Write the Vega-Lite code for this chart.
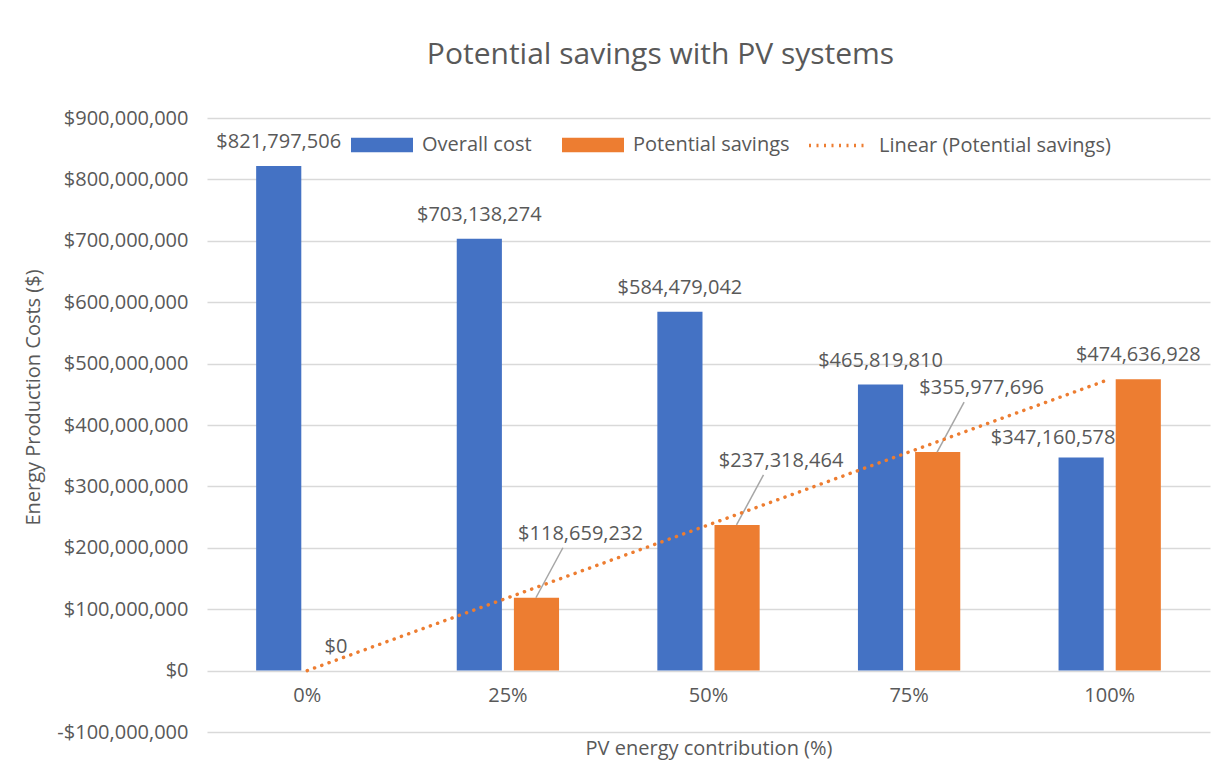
{
  "$schema": "https://vega.github.io/schema/vega-lite/v6.json",
  "width": 1003,
  "height": 614,
  "autosize": {"type": "none"},
  "padding": {"left": 207, "top": 118, "right": 3, "bottom": 46},
  "config": {
    "font": "Open Sans",
    "view": {"stroke": null},
    "text": {"font": "Open Sans", "fontSize": 20, "fill": "#595959"}
  },
  "title": {
    "text": "Potential savings with PV systems",
    "fontSize": 30,
    "fontWeight": "normal",
    "color": "#595959",
    "font": "Open Sans",
    "anchor": "middle",
    "dx": -48,
    "baseline": "alphabetic",
    "offset": 14
  },
  "data": {
    "values": [
      {"pct": "0%", "series": "Overall cost", "value": 821797506},
      {"pct": "25%", "series": "Overall cost", "value": 703138274},
      {"pct": "50%", "series": "Overall cost", "value": 584479042},
      {"pct": "75%", "series": "Overall cost", "value": 465819810},
      {"pct": "100%", "series": "Overall cost", "value": 347160578},
      {"pct": "0%", "series": "Potential savings", "value": 0},
      {"pct": "25%", "series": "Potential savings", "value": 118659232},
      {"pct": "50%", "series": "Potential savings", "value": 237318464},
      {"pct": "75%", "series": "Potential savings", "value": 355977696},
      {"pct": "100%", "series": "Potential savings", "value": 474636928}
    ]
  },
  "encoding": {
    "x": {
      "field": "pct",
      "type": "nominal",
      "sort": ["0%", "25%", "50%", "75%", "100%"],
      "scale": {"paddingInner": 0.49, "paddingOuter": 0.245},
      "axis": {
        "title": "PV energy contribution (%)",
        "titleFontSize": 20,
        "titleFontWeight": "normal",
        "titleColor": "#595959",
        "titleFont": "Open Sans",
        "titleY": 77,
        "titleBaseline": "middle",
        "labelAngle": 0,
        "labelFontSize": 20,
        "labelColor": "#595959",
        "labelPadding": 14,
        "labelBaseline": "top",
        "domain": false,
        "ticks": false,
        "offset": -61
      }
    },
    "y": {
      "field": "value",
      "type": "quantitative",
      "scale": {"domain": [-100000000, 900000000], "nice": false, "zero": false},
      "axis": {
        "title": "Energy Production Costs ($)",
        "titleFontSize": 20,
        "titleFontWeight": "normal",
        "titleColor": "#595959",
        "titleFont": "Open Sans",
        "titleX": -174,
        "titleY": 279,
        "titleAngle": -90,
        "titleAlign": "center",
        "titleBaseline": "middle",
        "values": [-100000000, 0, 100000000, 200000000, 300000000, 400000000, 500000000, 600000000, 700000000, 800000000, 900000000],
        "labelExpr": "datum.value < 0 ? '-' + format(-datum.value, '$,.0f') : format(datum.value, '$,.0f')",
        "labelFontSize": 20,
        "labelColor": "#595959",
        "labelPadding": 19,
        "domain": false,
        "ticks": false,
        "grid": true,
        "gridColor": "#D9D9D9",
        "gridWidth": 1.5
      }
    }
  },
  "layer": [
    {
      "mark": {"type": "bar"},
      "encoding": {
        "xOffset": {"field": "series", "type": "nominal", "scale": {"paddingInner": 0.21, "paddingOuter": 0}},
        "color": {
          "field": "series",
          "type": "nominal",
          "scale": {"domain": ["Overall cost", "Potential savings"], "range": ["#4472C4", "#ED7D31"]},
          "legend": {
            "title": null,
            "orient": "none",
            "direction": "horizontal",
            "legendX": 144,
            "legendY": -4,
            "symbolType": "M-1,-0.23H1V0.23H-1Z",
            "symbolSize": 3844,
            "symbolStrokeWidth": 0,
            "labelFontSize": 20,
            "labelColor": "#595959",
            "labelFont": "Open Sans",
            "labelOffset": 9,
            "labelLimit": 0,
            "columnPadding": 30
          }
        }
      }
    },
    {
      "transform": [{"filter": "!((datum.series == 'Potential savings' && (datum.pct == '25%' || datum.pct == '50%' || datum.pct == '75%')) || (datum.series == 'Overall cost' && datum.pct == '100%'))"}],
      "mark": {"type": "text", "baseline": "middle", "dy": -24},
      "encoding": {
        "xOffset": {"field": "series", "type": "nominal"},
        "text": {"field": "value", "type": "quantitative", "format": "$,.0f"}
      }
    },
    {
      "transform": [{"filter": "datum.series == 'Overall cost' && datum.pct == '100%'"}],
      "mark": {"type": "text", "baseline": "middle", "dy": -19, "dx": -28},
      "encoding": {
        "xOffset": {"field": "series", "type": "nominal"},
        "text": {"field": "value", "type": "quantitative", "format": "$,.0f"}
      }
    },
    {
      "transform": [{"filter": "datum.series == 'Potential savings' && (datum.pct == '25%' || datum.pct == '50%' || datum.pct == '75%')"}],
      "mark": {"type": "text", "baseline": "middle", "dy": -64, "dx": 44},
      "encoding": {
        "xOffset": {"field": "series", "type": "nominal"},
        "text": {"field": "value", "type": "quantitative", "format": "$,.0f"}
      }
    },
    {
      "transform": [{"filter": "datum.series == 'Potential savings' && (datum.pct == '25%' || datum.pct == '50%' || datum.pct == '75%')"}],
      "mark": {"type": "rule", "color": "#A6A6A6", "strokeWidth": 1.5, "xOffset": 28, "x2Offset": 55, "y2Offset": -50},
      "encoding": {
        "x2": {"field": "pct"},
        "y2": {"field": "value"}
      }
    },
    {
      "transform": [{"filter": "datum.series == 'Potential savings'"}],
      "mark": {"type": "line", "strokeWidth": 3.5, "strokeDash": [0.1, 7.6], "strokeCap": "round"},
      "encoding": {
        "stroke": {
          "datum": "Linear (Potential savings)",
          "type": "nominal",
          "scale": {"range": ["#ED7D31"]},
          "legend": {
            "title": null,
            "orient": "none",
            "legendX": 600,
            "legendY": -4,
            "symbolType": "stroke",
            "symbolSize": 3481,
            "symbolStrokeWidth": 3.5,
            "symbolDash": [2, 5.5],
            "labelFontSize": 20,
            "labelColor": "#595959",
            "labelFont": "Open Sans",
            "labelOffset": 9,
            "labelLimit": 0
          }
        }
      }
    }
  ]
}
